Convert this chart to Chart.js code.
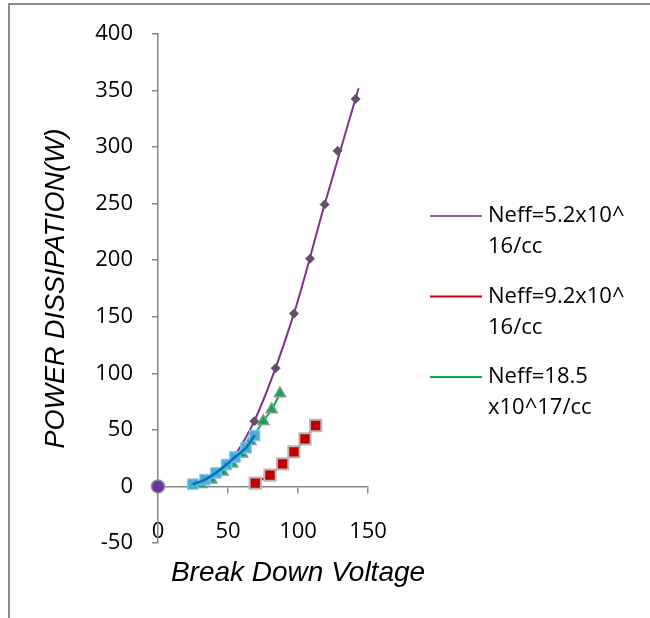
<!DOCTYPE html>
<html><head><meta charset="utf-8">
<script src="https://cdn.jsdelivr.net/npm/chart.js@4.4.0/dist/chart.umd.min.js"></script>
<style>html,body{margin:0;padding:0;background:#fff}#wrap{width:650px;height:618px;position:relative}</style>
</head><body><div id="wrap"><canvas id="c" width="650" height="618"></canvas></div>
<script>
// ---- data ----
const purpleVoltage = [68.8, 84, 97.1, 108.6, 119, 128.3, 141.2];
const purplePower   = [57.7, 104.5, 152.8, 201.3, 249.3, 296.7, 342.6];
const purpleFitVoltage = [46, 68.8, 97.1, 119, 143.3];
const purpleFitPower   = [10, 57.7, 152.8, 249.3, 352];
const redVoltage   = [69.5, 80, 89, 97.1, 105, 112.6];
const redPower     = [2.9, 10, 20, 30.6, 42.1, 53.9];
const greenVoltage = [31, 38, 46, 53, 60, 66, 75.2, 81.2, 87.1];
const greenPower   = [2, 6, 13, 20, 29, 40, 57.7, 68, 82.1];
const cyanVoltage  = [24.8, 33.6, 41.4, 49, 55, 62.9, 69];
const cyanPower    = [2, 6, 12, 19.4, 26, 34.2, 45];
const originVoltage = [0];
const originPower   = [0];
const xTicks = [0, 50, 100, 150];
const yTicks = [-50, 0, 50, 100, 150, 200, 250, 300, 350, 400];
const legendLabels = [["Neff=5.2x10^", "16/cc"], ["Neff=9.2x10^", "16/cc"], ["Neff=18.5", "x10^17/cc"]];
const xTitle = "Break Down Voltage";
const yTitle = "POWER DISSIPATION(W)";

// ---- styles ----
const C = {purple:'#7E3389', purpleMk:'#6A4A70', purpleLeg:'#A055A5', red:'#C00000', green:'#00B050',
           cyan:'#3FB8EC', blue:'#0070C0', axis:'#878787'};
const pts = (xs, ys) => xs.map((x, i) => ({x, y: ys[i]}));

const datasets = [
  {data: pts(originVoltage, originPower), showLine:false, pointStyle:'circle', pointRadius:6.5, clip:false,
   backgroundColor:'#7030A0', borderColor:'#8c8c8c', borderWidth:1.5},
  {data: pts(cyanVoltage, cyanPower), showLine:true, cubicInterpolationMode:'monotone', borderColor:C.blue, borderWidth:2.5,
   pointRadius:0, fill:false},
  {data: pts(cyanVoltage, cyanPower), showLine:false, pointStyle:'crossRot', pointRadius:5,
   borderColor:'#8c8c8c', borderWidth:1.5, backgroundColor:'#8c8c8c'},
  {data: pts(cyanVoltage, cyanPower), showLine:false, pointStyle:'rect', pointRadius:7.5,
   backgroundColor:C.cyan, borderColor:'#7fcbee', borderWidth:1},
  {data: pts(greenVoltage, greenPower), showLine:true, cubicInterpolationMode:'monotone', borderColor:C.green, borderWidth:2,
   pointStyle:'triangle', pointRadius:6.5, backgroundColor:C.green, pointBorderColor:'#909090', pointBorderWidth:1.5},
  {data: pts(purpleVoltage, purplePower), showLine:false, pointStyle:'rectRot', pointRadius:4.5,
   backgroundColor:C.purpleMk, borderColor:'#5e5e5e', borderWidth:1},
  {data: pts(purpleFitVoltage, purpleFitPower), showLine:true, cubicInterpolationMode:'monotone', borderColor:C.purple, borderWidth:2,
   pointRadius:0},
  {data: pts(redVoltage, redPower), showLine:true, tension:0, borderColor:C.red, borderWidth:2,
   pointStyle:'rect', pointRadius:8, backgroundColor:C.red, pointBorderColor:'#b8b8b8', pointBorderWidth:2},
];

const decor = {
  id:'decor',
  beforeDraw(chart){
    const c = chart.ctx; c.save();
    c.fillStyle = '#fff'; c.fillRect(0,0,chart.width,chart.height);
    c.strokeStyle = '#8a8a8a'; c.lineWidth = 2;
    c.strokeRect(9, 4, 800, 800);
    c.restore();
  },
  afterDraw(chart){
    const c = chart.ctx; c.save();
    // x axis title
    c.font = 'italic 28px "Liberation Sans", Arial, sans-serif';
    c.fillStyle = '#000'; c.textAlign = 'center'; c.textBaseline = 'middle';
    c.fillText(xTitle, 298, 573);
    // legend
    const cols = [C.purpleLeg, C.red, C.green];
    c.font = '22px "Open Sans", sans-serif'; c.textAlign = 'left';
    legendLabels.forEach((lines, i) => {
      const y0 = 216 + i * 80.5;
      c.strokeStyle = cols[i]; c.lineWidth = 2;
      c.beginPath(); c.moveTo(430, y0); c.lineTo(482, y0); c.stroke();
      lines.forEach((t, j) => c.fillText(t, 488, y0 + j * 31));
    });
    c.restore();
  }
};

new Chart(document.getElementById('c'), {
  type:'scatter',
  data:{datasets},
  plugins:[decor],
  options:{
    responsive:false, animation:false, devicePixelRatio:1,
    layout:{padding:{left:0, top:34, right:282, bottom:75}},
    plugins:{legend:{display:false}, tooltip:{enabled:false}},
    scales:{
      x:{type:'linear', position:{y:0}, min:0, max:150,
         afterBuildTicks: s => { s.ticks = xTicks.map(v => ({value:v})); },
         border:{display:true, color:C.axis, width:1.5},
         grid:{display:true, drawOnChartArea:false, drawTicks:true, tickLength:6, color:C.axis, lineWidth:1.5},
         ticks:{font:{family:'"Open Sans", sans-serif', size:22}, color:'#000', padding:26, maxRotation:0}},
      y:{type:'linear', position:'left', min:-50, max:400,
         afterBuildTicks: s => { s.ticks = yTicks.map(v => ({value:v})); },
         afterFit: s => { s.width = 158; },
         border:{display:true, color:C.axis, width:1.5},
         grid:{display:true, drawOnChartArea:false, drawTicks:true, tickLength:6, color:C.axis, lineWidth:1.5},
         ticks:{font:{family:'"Open Sans", sans-serif', size:22}, color:'#000', padding:19},
         title:{display:true, text:yTitle, color:'#000', padding:{top:40, bottom:0},
                font:{family:'"Liberation Sans", Arial, sans-serif', size:27, style:'italic'}}}
    }
  }
});
</script></body></html>
